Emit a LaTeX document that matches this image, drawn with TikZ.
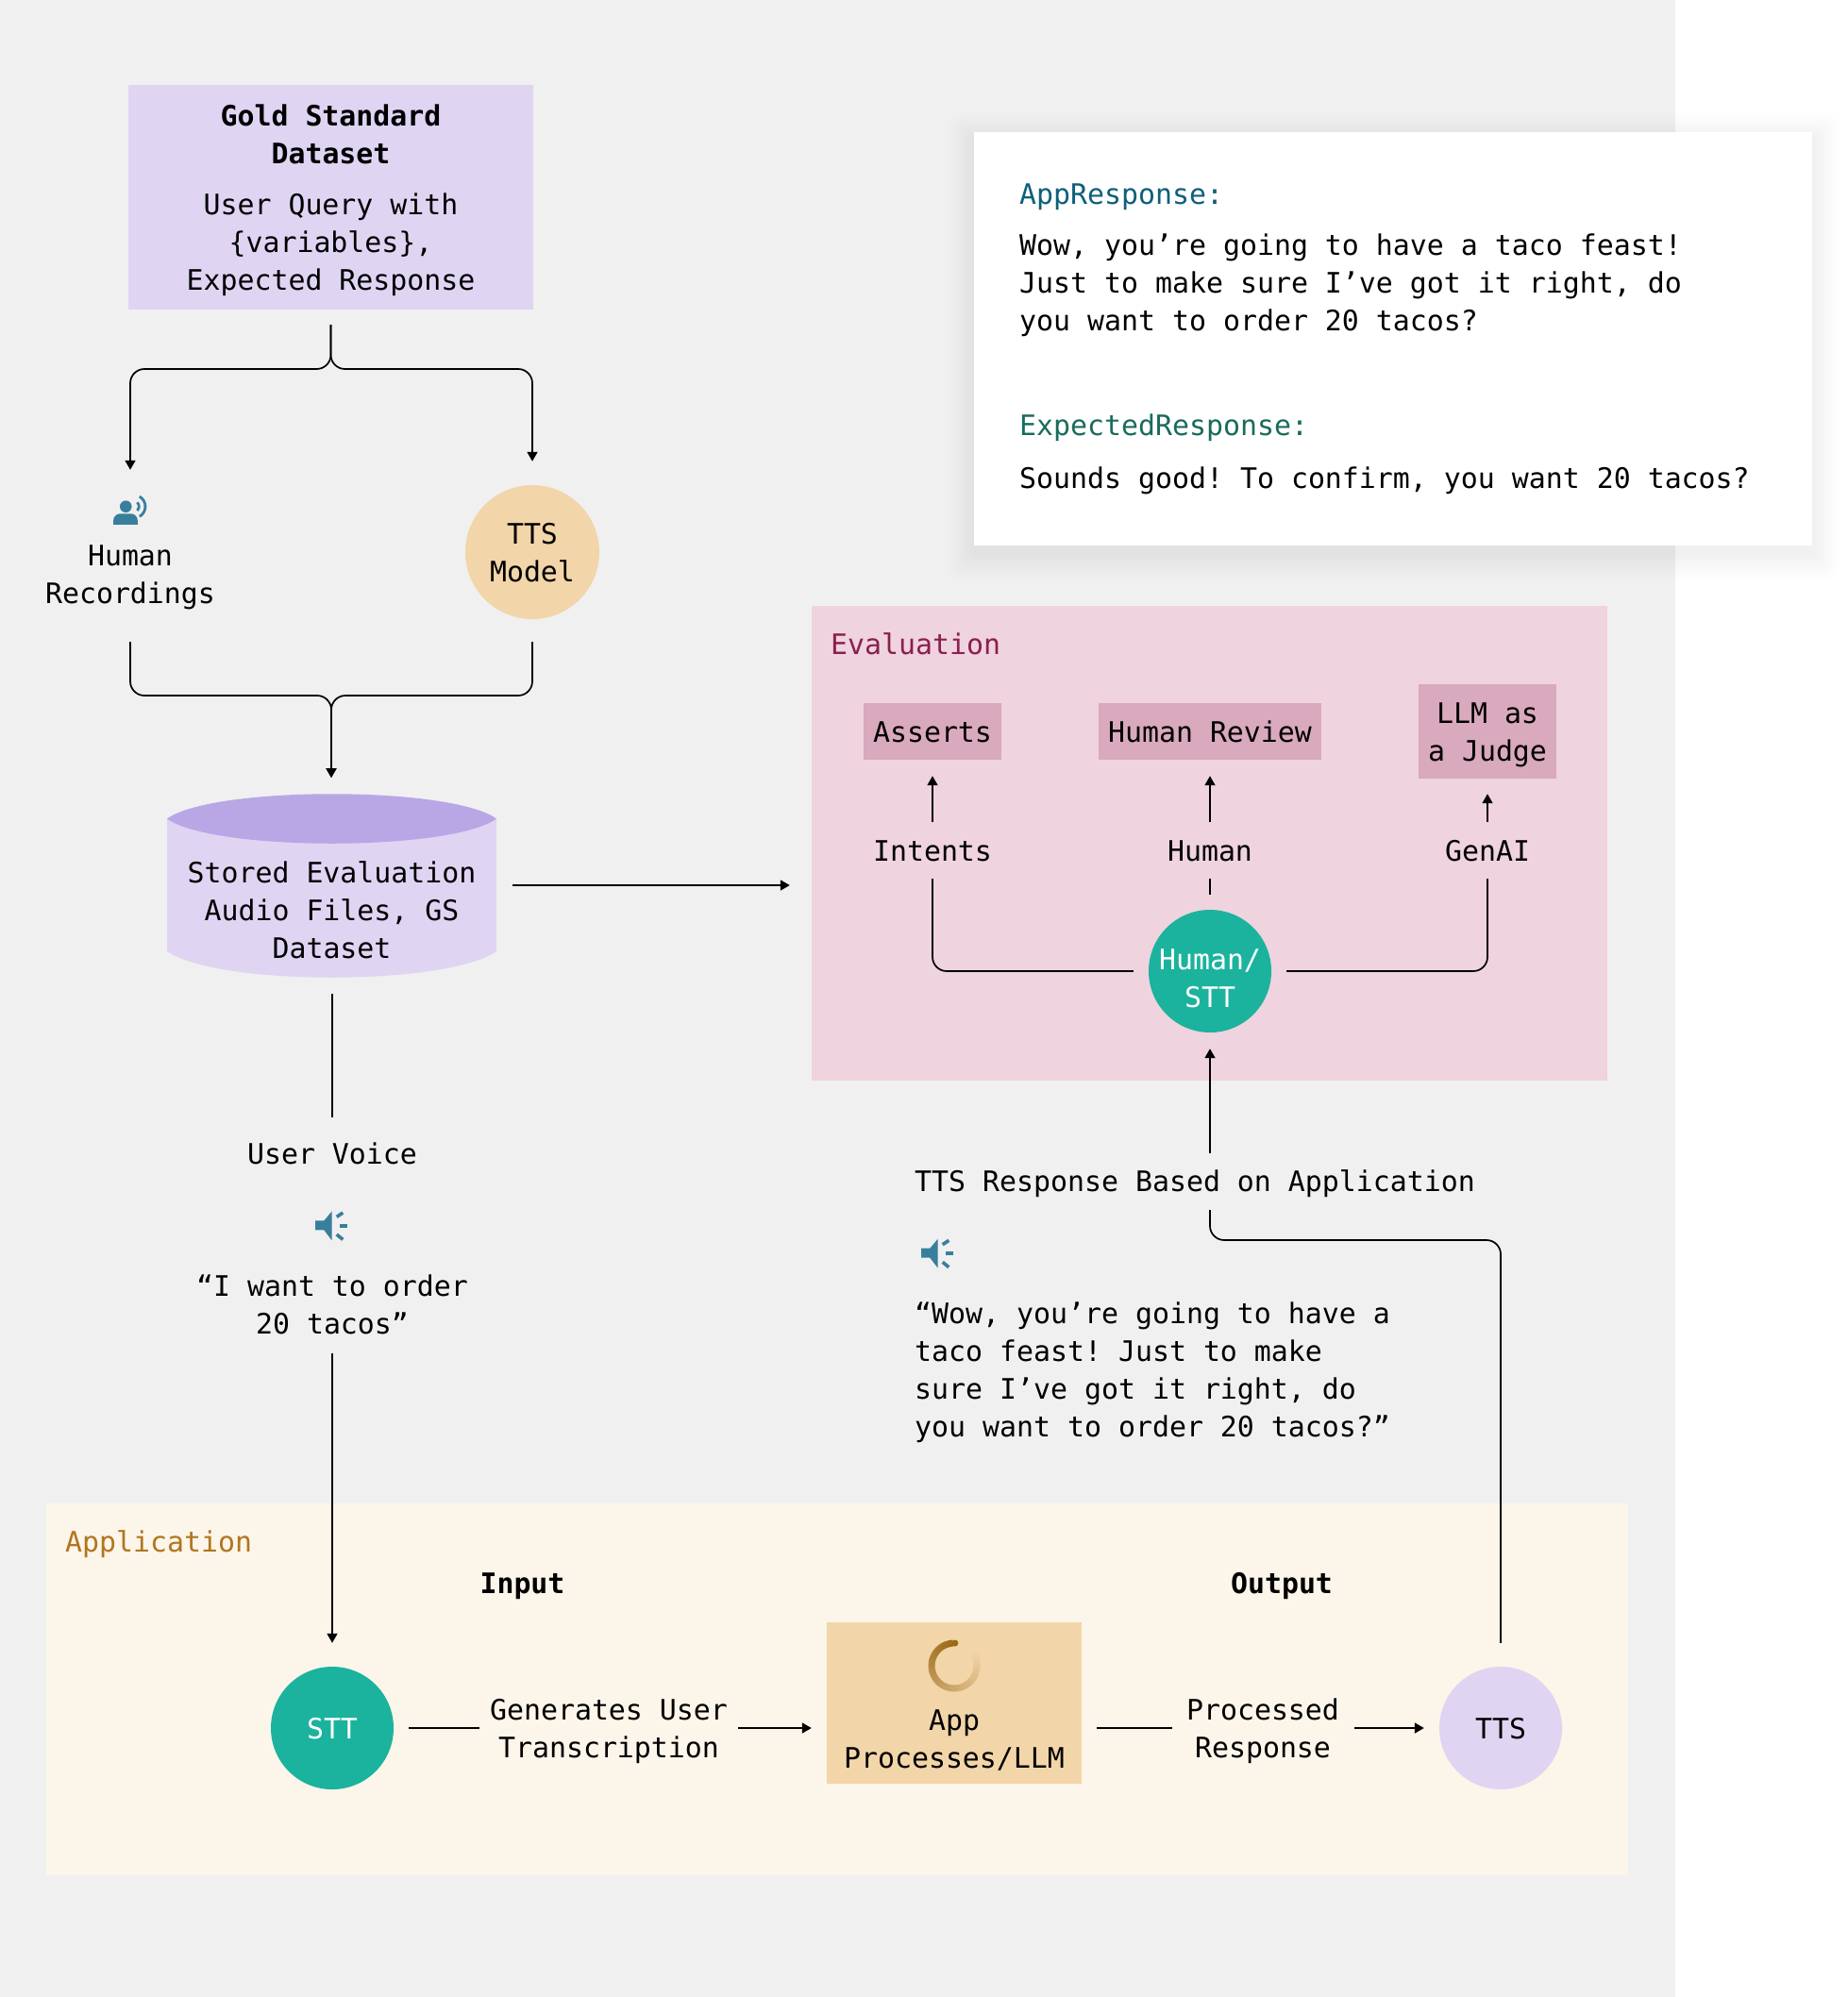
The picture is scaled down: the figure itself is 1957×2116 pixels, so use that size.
\documentclass[tikz,border=0pt]{standalone}
\usepackage{fontspec}
\setmainfont{DejaVu Sans Mono}
\usetikzlibrary{arrows.meta,calc}
\definecolor{bggrey}{HTML}{F0F0F1}
\definecolor{lilac}{HTML}{DFD5F3}
\definecolor{lilacdark}{HTML}{B9A7E5}
\definecolor{sand}{HTML}{F2D5A9}
\definecolor{evalpink}{HTML}{EFD3DF}
\definecolor{evalbox}{HTML}{D9A9BE}
\definecolor{evaltext}{HTML}{8A1F4D}
\definecolor{appcream}{HTML}{FCF5EA}
\definecolor{apptext}{HTML}{B0761F}
\definecolor{tealfill}{HTML}{1BB39D}
\definecolor{iconblue}{HTML}{387F9C}
\definecolor{respblue}{HTML}{0F5F7A}
\definecolor{respgreen}{HTML}{1A6B5C}
\definecolor{spindark}{HTML}{9A6A14}
\newcommand{\ls}{\rule[-9pt]{0pt}{40pt}}
\newcommand{\lstop}{\rule[-9pt]{0pt}{42pt}}
\tikzset{
  x=1pt,y=-1pt,
  lbl/.style={inner sep=0pt,align=center,font=\fontsize{29.88}{40}\selectfont\frenchspacing},
  lblleft/.style={inner sep=0pt,align=left,anchor=west,font=\fontsize{29.88}{40}\selectfont\frenchspacing},
  boxnode/.style={lbl,rectangle,fill=#1},
  dot/.style={lbl,circle,fill=#1},
  conn/.style={draw=black,line width=1.7pt,rounded corners=15pt},
  arrowconn/.style={conn,-{Triangle[length=10pt,width=11pt]}},
  speakericon/.pic={
    \fill[iconblue] (-17,-5.3) -- (-7.7,-5.3) -- (0.7,-15.3) -- (0.7,15.7) -- (-7.7,4.7) -- (-17,4.7) -- cycle;
    \draw[iconblue,line width=3.6pt] (5.7,-9.3) -- (12.3,-13.7);
    \draw[iconblue,line width=3.6pt] (9,0) -- (17,0);
    \draw[iconblue,line width=3.6pt] (5.7,9.3) -- (12.3,14.7);
  }
}
\begin{document}
\begin{tikzpicture}
\useasboundingbox (0,0) rectangle (1957,2116);
\fill[white] (0,0) rectangle (1957,2116);
\fill[bggrey] (0,0) rectangle (1775,2116);

% white card with soft shadow
\foreach \i in {1,...,14}{
  \fill[black,opacity=0.004,rounded corners=\i pt]
    ({1032-2*\i},{140+8-2*\i}) rectangle ({1920+2*\i},{578+8+2*\i});
}
\fill[white] (1032,140) rectangle (1920,578);
\node[lblleft,text=respblue] (cardapphead) at (1080,206) {\ls AppResponse:};
\node[lblleft] (cardapp) at (1080,299.5) {\ls Wow, you’re going to have a taco feast!\\\ls Just to make sure I’ve got it right, do\\\ls you want to order 20 tacos?};
\node[lblleft,text=respgreen] (cardexphead) at (1080,450.5) {\ls ExpectedResponse:};
\node[lblleft] (cardexp) at (1080,506) {\ls Sounds good! To confirm, you want 20 tacos?};

% panels
\node[rectangle,fill=evalpink,inner sep=0pt,minimum width=843pt,minimum height=503pt] (evalpanel) at (1281.5,893.5) {};
\node[rectangle,fill=appcream,inner sep=0pt,minimum width=1676pt,minimum height=394pt] (apppanel) at (887,1790) {};
\node[lblleft,text=evaltext] (evaltitle) at (880,682) {\ls Evaluation};
\node[lblleft,text=apptext] (apptitle) at (69,1633) {\ls Application};

% gold standard
\node[boxnode=lilac,minimum width=429pt,minimum height=238pt] (gold) at (350.5,209) {\lstop\textbf{Gold Standard}\\\ls\textbf{Dataset}\\[14pt]\ls User Query with\\\ls \{variables\},\\\ls Expected Response};

% human recordings icon and label
\node[inner sep=0pt,minimum width=36pt,minimum height=30pt] (humanicon) at (138,541) {};
\fill[iconblue] (133.3,536.7) circle (6.3);
\fill[iconblue,rounded corners=7pt] (120.3,555.7) -- (120.3,544.3) -- (145.7,544.3) -- (145.7,555.7) -- cycle;
\fill[iconblue] (120.3,551) rectangle (145.7,555.7);
\draw[iconblue,line width=2.8pt,variable=\t,domain=-50:50,samples=12] plot ({141.7+5.5*cos(\t)},{536.7-5.5*sin(\t)});
\draw[iconblue,line width=2.8pt,variable=\t,domain=-60:60,samples=16] plot ({141.7+12.2*cos(\t)},{536.7-12.2*sin(\t)});
\node[lbl] (humanrec) at (138,608) {\ls Human\\\ls Recordings};
\node[dot=sand,minimum size=142pt] (ttsmodel) at (564,585) {\ls TTS\\\ls Model};

% cylinder
\fill[lilac] (177,867.5) -- (177,1008) .. controls (230,1045) and (473,1045) .. (526,1008) -- (526,867.5) -- cycle;
\fill[lilacdark] (177,867.5) .. controls (225,832.5) and (478,832.5) .. (526,867.5) .. controls (478,902.5) and (225,902.5) .. (177,867.5) -- cycle;
\coordinate (cyltop) at (351,841);
\coordinate (cylright) at (526,938);
\coordinate (cylbot) at (352,1036);
\node[lbl] (cyltext) at (351.5,964) {\ls Stored Evaluation\\\ls Audio Files, GS\\\ls Dataset};

% left column labels
\node[lbl] (uservoice) at (352,1222) {\ls User Voice};
\node[inner sep=0pt,minimum width=34pt,minimum height=31pt] (speakerA) at (351,1298.7) {};
\pic at (speakerA.center) {speakericon};
\node[lbl] (quote) at (352,1382.5) {\ls “I want to order\\\ls 20 tacos”};

% evaluation contents
\node[boxnode=evalbox,minimum width=146pt,minimum height=60pt] (asserts) at (988,775) {\ls Asserts};
\node[boxnode=evalbox,minimum width=236pt,minimum height=60pt] (humanreview) at (1282,775) {\ls Human Review};
\node[boxnode=evalbox,minimum width=146pt,minimum height=100pt] (llmjudge) at (1576,775) {\ls LLM as\\\ls a Judge};
\node[lbl] (intents) at (988,901) {\ls Intents};
\node[lbl] (humanlbl) at (1282,901) {\ls Human};
\node[lbl] (genai) at (1576,901) {\ls GenAI};
\node[circle,fill=tealfill,inner sep=0pt,minimum size=130pt] (humanstt) at (1282,1029) {};
\node[lbl,text=white] (humansttlabel) at (1282,1036) {\ls Human/\\\ls STT};

% right column labels
\node[lblleft] (ttsresp) at (969,1251) {\ls TTS Response Based on Application};
\node[inner sep=0pt,minimum width=34pt,minimum height=31pt] (speakerB) at (993,1328) {};
\pic at (speakerB.center) {speakericon};
\node[lblleft] (wowtext) at (969,1451) {\ls “Wow, you’re going to have a\\\ls taco feast! Just to make\\\ls sure I’ve got it right, do\\\ls you want to order 20 tacos?”};

% application contents
\node[lbl] (inputlbl) at (553.5,1677) {\ls\textbf{Input}};
\node[lbl] (outputlbl) at (1358,1677) {\ls\textbf{Output}};
\node[dot=tealfill,minimum size=130pt,text=white] (stt) at (352,1831) {\ls STT};
\node[lbl] (gen) at (645,1831) {\ls Generates User\\\ls Transcription};
\node[rectangle,fill=sand,inner sep=0pt,minimum width=270pt,minimum height=171pt] (appbox) at (1011,1804.5) {};
\foreach \k in {0,...,59}{
  \pgfmathsetmacro{\aone}{93+\k*5.1}
  \pgfmathsetmacro{\atwo}{\aone+5.6}
  \pgfmathsetmacro{\mixv}{100-\k*100/59}
  \draw[spindark!\mixv!sand,line width=7pt] ({1011+24*cos(\aone)},{1765-24*sin(\aone)}) -- ({1011+24*cos(\atwo)},{1765-24*sin(\atwo)});
}
\fill[spindark] ({1011+24*cos(88)},{1765-24*sin(88)}) circle (3.5);
\node[lbl] (apptextnode) at (1011,1842) {\ls App\\\ls Processes/LLM};
\node[lbl] (proc) at (1338,1831) {\ls Processed\\\ls Response};
\node[dot=lilac,minimum size=130pt] (ttsapp) at (1590,1831) {\ls TTS};

% connectors: gold standard to sources
\coordinate (branchtop) at (gold.south |- 0,391);
\draw[arrowconn,shorten <=16pt,shorten >=28pt] (gold.south) -- (branchtop) -- (humanicon.north |- branchtop) -- (humanicon.north);
\draw[arrowconn,shorten <=16pt,shorten >=25pt] (gold.south) -- (branchtop) -- (ttsmodel.north |- branchtop) -- (ttsmodel.north);

% sources to cylinder
\coordinate (branchlow) at (cyltop |- 0,737);
\draw[arrowconn,shorten <=32pt,shorten >=17pt] (humanrec.south) -- (humanrec.south |- branchlow) -- (branchlow) -- (cyltop);
\draw[arrowconn,shorten <=24pt,shorten >=17pt] (ttsmodel.south) -- (ttsmodel.south |- branchlow) -- (branchlow) -- (cyltop);

% cylinder to evaluation and voice
\draw[arrowconn,shorten <=17pt,shorten >=23pt] (cylright) -- (cylright -| evalpanel.west);
\draw[conn,shorten <=17pt,shorten >=18pt] (cylbot) -- (uservoice.north);
\draw[arrowconn,shorten <=11pt,shorten >=25pt] (quote.south) -- (stt.north);

% application flow
\draw[conn,shorten <=16pt,shorten >=11pt] (stt.east) -- (gen.west);
\draw[arrowconn,shorten <=11pt,shorten >=16pt] (gen.east) -- (gen.east -| appbox.west);
\draw[conn,shorten <=16pt,shorten >=15pt] (proc.west -| appbox.east) -- (proc.west);
\draw[arrowconn,shorten <=16pt,shorten >=16pt] (proc.east) -- (ttsapp.west);

% tts back to evaluation
\coordinate (ttsturn) at (ttsapp.north |- 0,1314);
\draw[conn,shorten <=25pt,shorten >=11pt] (ttsapp.north) -- (ttsturn) -- (ttsturn -| humanstt.south) -- (ttsresp.south -| humanstt.south);
\draw[arrowconn,shorten <=9pt,shorten >=17pt] (ttsresp.north -| humanstt.south) -- (humanstt.south);

% evaluation flow
\draw[conn,shorten <=16pt,shorten >=10pt] (humanstt.west) -- (humanstt.west -| intents.south) -- (intents.south);
\draw[conn,shorten <=16pt,shorten >=10pt] (humanstt.east) -- (humanstt.east -| genai.south) -- (genai.south);
\draw[conn,shorten <=16pt,shorten >=10pt] (humanstt.north) -- (humanlbl.south);
\draw[arrowconn,shorten <=10pt,shorten >=17pt] (intents.north) -- (asserts.south);
\draw[arrowconn,shorten <=10pt,shorten >=17pt] (humanlbl.north) -- (humanreview.south);
\draw[arrowconn,shorten <=10pt,shorten >=16pt] (genai.north) -- (llmjudge.south);
\end{tikzpicture}
\end{document}
